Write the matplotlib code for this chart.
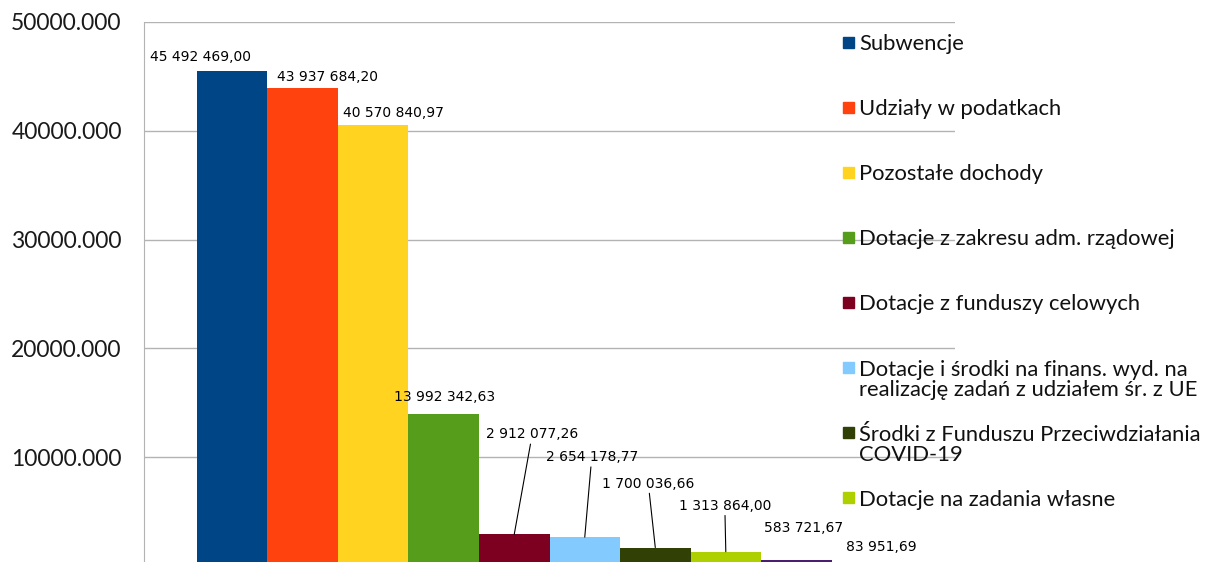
import matplotlib.pyplot as plt
from matplotlib.patches import Rectangle
from matplotlib.ticker import FuncFormatter

categories = [
    "Subwencje",
    "Udziały w podatkach",
    "Pozostałe dochody",
    "Dotacje z zakresu adm. rządowej",
    "Dotacje z funduszy celowych",
    "Dotacje i środki na finans. wyd. na\nrealizację zadań z udziałem śr. z UE",
    "Środki z Funduszu Przeciwdziałania\nCOVID-19",
    "Dotacje na zadania własne",
    "",
    "",
]
values = [
    45492469.00, 43937684.20, 40570840.97, 13992342.63, 2912077.26,
    2654178.77, 1700036.66, 1313864.00, 583721.67, 83951.69,
]
colors = [
    "#004586", "#ff420e", "#ffd320", "#579d1c", "#7e0021",
    "#83caff", "#314004", "#aecf00", "#4b1f6f", "#ff950e",
]
y_ticks = [10e6, 20e6, 30e6, 40e6, 50e6]

# label offsets from bar top centre, in pixels (layout only)
label_offsets = [(-32, 14), (25, 11), (20, 12), (1, 17), (18, 100),
                 (7, 80), (-7, 64), (-1, 46), (7, 32), (14, 18)]
leader = [False, False, False, False, True, True, True, True, False, False]

W, H = 1208, 562
fig = plt.figure(figsize=(W / 100, H / 100), dpi=100)
ax = fig.add_axes([144 / W, -4 / H, (955 - 144) / W, (566 - 22) / H])

xs = list(range(len(values)))
ax.bar(xs, values, width=1.0, align="edge", color=colors, zorder=2)

ax.set_xlim(-0.75, 10.75)
ax.set_ylim(0, 50e6)
ax.set_yticks(y_ticks)
ax.yaxis.set_major_formatter(FuncFormatter(lambda v, p: f"{v / 1000:.3f}"))
ax.tick_params(axis="y", length=0, pad=16, labelsize=16.5, labelcolor="#1a1a1a")
ax.set_xticks([])
for lab in ax.get_yticklabels():
    lab.set_fontfamily("Lato")
ax.grid(axis="y", color="#b3b3b3", linewidth=1, zorder=0)
for side in ["top", "right", "bottom"]:
    ax.spines[side].set_visible(False)
ax.spines["left"].set_color("#b3b3b3")

for x, v, (dx, dy), lead in zip(xs, values, label_offsets, leader):
    txt = f"{v:,.2f}".replace(",", " ").replace(".", ",")
    props = dict(arrowstyle="-", color="black", lw=0.8, shrinkA=0, shrinkB=0) if lead else None
    ax.annotate(txt, xy=(x + 0.5, v), xytext=(dx, dy), textcoords="offset pixels",
                ha="center", va="center", fontsize=10, family="DejaVu Sans",
                arrowprops=props, annotation_clip=False, zorder=3)

# legend drawn by hand so the marker sits on the first text line
for i, (name, c) in enumerate(zip(categories, colors)):
    if not name:
        continue
    yc = 42 + 65.1 * i
    fig.patches.append(Rectangle((843 / W, 1 - (yc + 5.5) / H), 11 / W, 11 / H,
                                 color=c, transform=fig.transFigure, figure=fig))
    fig.text(859 / W, 1 - (yc - 8) / H, name, ha="left", va="top",
             fontsize=15.8, family="Lato", linespacing=1.02, color="#111111")

fig.savefig("out.png", dpi=100)
